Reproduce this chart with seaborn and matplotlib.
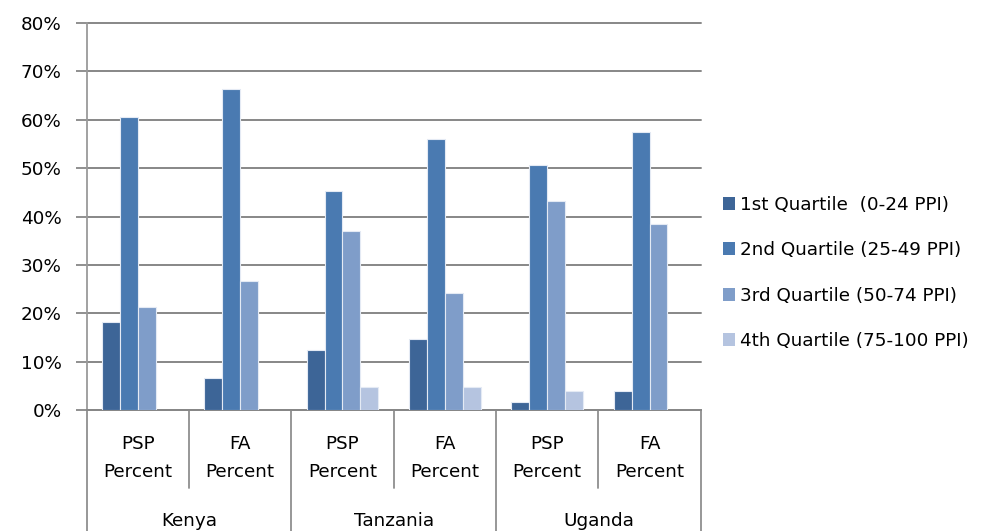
import numpy as np
import pandas as pd
import matplotlib
matplotlib.use("Agg")
import matplotlib.pyplot as plt
import matplotlib.transforms as mtransforms
import seaborn as sns

# ---- data ----
countries = ["Kenya", "Tanzania", "Uganda"]
measures = ["PSP\nPercent", "FA\nPercent"]
quartiles = ["1st Quartile  (0-24 PPI)", "2nd Quartile (25-49 PPI)",
             "3rd Quartile (50-74 PPI)", "4th Quartile (75-100 PPI)"]
q1 = [18.1, 6.6, 12.3, 14.7, 1.7, 3.9]
q2 = [60.5, 66.3, 45.3, 56.0, 50.6, 57.5]
q3 = [21.2, 26.6, 36.9, 24.2, 43.3, 38.4]
q4 = [None, None, 4.7, 4.7, 3.9, None]
yticks = [0, 10, 20, 30, 40, 50, 60, 70, 80]

colors = ["#3D6597", "#4A7AB1", "#7F9DC9", "#B5C4E0"]

groups = [f"{c}|{m}" for c in countries for m in measures]
rows = []
for qi, vals in enumerate([q1, q2, q3, q4]):
    for g, v in zip(groups, vals):
        if v is not None:
            rows.append({"group": g, "quartile": quartiles[qi], "value": v})
df = pd.DataFrame(rows)

sns.set_theme(style="white")
plt.rcParams["font.family"] = ["DejaVu Sans"]
plt.rcParams["text.color"] = "#000000"
FS = 13.2

fig = plt.figure(figsize=(10.06, 5.31), dpi=100)
ax = fig.add_axes([86.5 / 1006, 1 - 410 / 531, (700.7 - 86.5) / 1006, (410 - 23) / 531])

sns.barplot(data=df, x="group", y="value", hue="quartile", order=groups,
            hue_order=quartiles, palette=colors, width=0.7, errorbar=None,
            edgecolor="#E4EAF4", linewidth=0.8, saturation=1, ax=ax, zorder=3)

ax.set_xlim(-0.5, len(groups) - 0.5)
ax.set_ylim(0, 80)
ax.set_yticks(yticks)
ax.set_yticklabels([f"{t}%" for t in yticks], fontsize=FS, color="#000000")
ax.set_xticks([])
ax.set_xlabel("")
ax.set_ylabel("")
ax.yaxis.grid(True, color="#878787", linewidth=1.4, zorder=0)
for gl in ax.get_ygridlines():
    gl.set_clip_on(False)
ax.set_axisbelow(True)
ax.tick_params(axis="y", direction="out", length=8, width=1.3, color="#878787", pad=10, left=True)
for s in ["top", "right"]:
    ax.spines[s].set_visible(False)
ax.spines["left"].set_color("#9A9A9A")
ax.spines["left"].set_linewidth(1.3)
ax.spines["bottom"].set_color("#878787")
ax.spines["bottom"].set_linewidth(1.4)

# category axis labels and separators
trans = mtransforms.blended_transform_factory(ax.transData, ax.transAxes)
y_inner = (410 - 488) / 387
y_outer = (410 - 531) / 387
for i, g in enumerate(groups):
    ax.text(i, (410 - 458) / 387, g.split("|")[1], transform=trans, ha="center", va="center",
            fontsize=FS, linespacing=1.65, color="#000000")
for k, c in enumerate(countries):
    ax.text(2 * k + 0.5, (410 - 521) / 387, c, transform=trans, ha="center", va="center",
            fontsize=FS, color="#000000", clip_on=False)
for b in range(len(groups) + 1):
    x = b - 0.5
    y_end = y_outer if b % 2 == 0 else y_inner
    ax.plot([x, x], [0, y_end], transform=trans, color="#8F8F8F", linewidth=1.3,
            clip_on=False, zorder=1)

# legend
leg = ax.get_legend()
if leg is not None:
    leg.remove()
handles = [plt.Rectangle((0, 0), 1, 1, facecolor=c, edgecolor="none") for c in colors]
fig.legend(handles, quartiles, loc="center left", bbox_to_anchor=(0.711, 0.486),
           frameon=False, fontsize=FS, handlelength=0.7, handleheight=0.7,
           handletextpad=0.25, labelspacing=1.5, borderaxespad=0, labelcolor="#000000")

fig.savefig("out.png", dpi=100)
